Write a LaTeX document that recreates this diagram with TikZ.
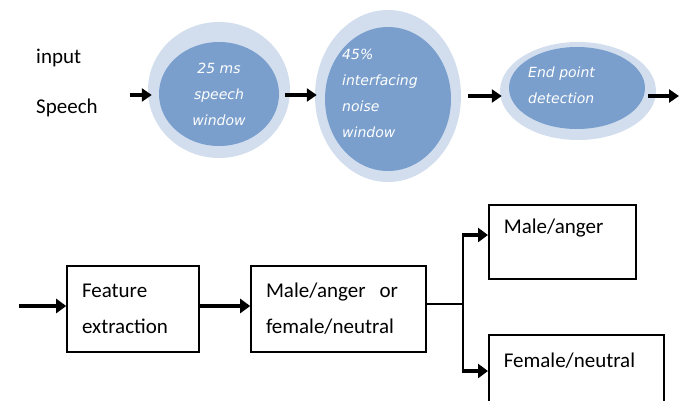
\documentclass[tikz,border=0pt]{standalone}
\usepackage{fontspec}
\setmainfont{Carlito}
\newfontfamily\circfont{DejaVu Sans}
\usetikzlibrary{arrows.meta,shapes.geometric}
\definecolor{ringblue}{HTML}{D2DEEE}
\definecolor{coreblue}{HTML}{7A9FCD}
\tikzset{
  outerring/.style={ellipse, fill=ringblue, draw=none, inner sep=0pt},
  innercore/.style={ellipse, fill=coreblue, draw=none, inner sep=0pt},
  ctext/.style={text=white, font=\circfont\itshape\fontsize{14}{26}\selectfont, inner sep=0pt},
  boxnode/.style={draw=black, line width=1.6pt, rectangle, inner ysep=0pt, inner xsep=15pt, align=left,
     font=\fontsize{21}{36}\selectfont},
  toparrow/.style={line width=3.5pt, -{Triangle[length=10pt,width=13pt]}},
  botarrow/.style={line width=3.5pt, -{Triangle[length=10pt,width=14pt]}},
  thinline/.style={line width=1.4pt},
  vline/.style={line width=2pt},
  plaintext/.style={font=\fontsize{21}{26}\selectfont, inner sep=0pt, anchor=base west}
}
\begin{document}
\begin{tikzpicture}[x=1pt,y=-1pt]
\useasboundingbox (0,0) rectangle (686,400);
% left labels
\node[plaintext] (lin) at (36,63) {input};
\node[plaintext] (lsp) at (36,113) {Speech};
% ellipses
\node[outerring, minimum width=142pt, minimum height=136pt] (o1) at (219,90) {};
\node[innercore, minimum width=120pt, minimum height=104pt] (i1) at (219,94) {};
\node[ctext, align=center] (t1) at (219,94) {25 ms\\speech\\window};
\node[outerring, minimum width=146pt, minimum height=172pt] (o2) at (388,96) {};
\node[innercore, minimum width=126pt, minimum height=144pt] (i2) at (388,99) {};
\node[ctext, align=left, anchor=west] (t2) at (342,93) {45\%\\interfacing\\noise\\window};
\node[outerring, minimum width=156pt, minimum height=98pt] (o3) at (578,91) {};
\node[innercore, minimum width=136pt, minimum height=82pt] (i3) at (577,88) {};
\node[ctext, align=left, anchor=west] (t3) at (528,85) {End point\\detection};
% top arrows
\coordinate (s1) at (130,95);
\draw[toparrow] (s1) -- ([xshift=4pt]s1 -| o1.west);
\coordinate (s2) at (285,95);
\draw[toparrow] (s2) -- ([xshift=2pt]s2 -| o2.west);
\coordinate (s3) at (468,96);
\draw[toparrow] (s3) -- ([xshift=2pt]s3 -| o3.west);
\coordinate (s4) at (648,96);
\coordinate (e4) at (679,96);
\draw[toparrow] (s4) -- (e4);
% bottom boxes
\node[boxnode, text width=102pt, minimum height=86pt] (feat) at (133,309) {Feature\\extraction};
\node[boxnode, text width=145pt, minimum height=86pt] (mid) at (338.5,309) {Male/anger~~or\\female/neutral};
\node[boxnode, text width=117pt, text height=29pt, text depth=45pt, anchor=north west] (male) at (488,204) {Male/anger};
\node[boxnode, text width=145pt, text height=33pt, text depth=45pt, anchor=north west] (fem) at (488,334) {Female/neutral};
% bottom connectors
\coordinate (in1) at (19,306);
\draw[botarrow] (in1) -- (in1 -| feat.west);
\draw[botarrow] ([yshift=3pt]feat.east) -- ([yshift=3pt]mid.west);
\coordinate (bu) at (463,235);
\coordinate (bd) at (463,371);
\coordinate (bm) at (463,304);
\draw[thinline] (bm -| mid.east) -- (bm);
\draw[vline] (bu) -- (bd);
\draw[botarrow] ([xshift=-1pt]bu) -- (bu -| male.west);
\draw[botarrow] ([xshift=-1pt]bd) -- (bd -| fem.west);
\end{tikzpicture}
\end{document}
